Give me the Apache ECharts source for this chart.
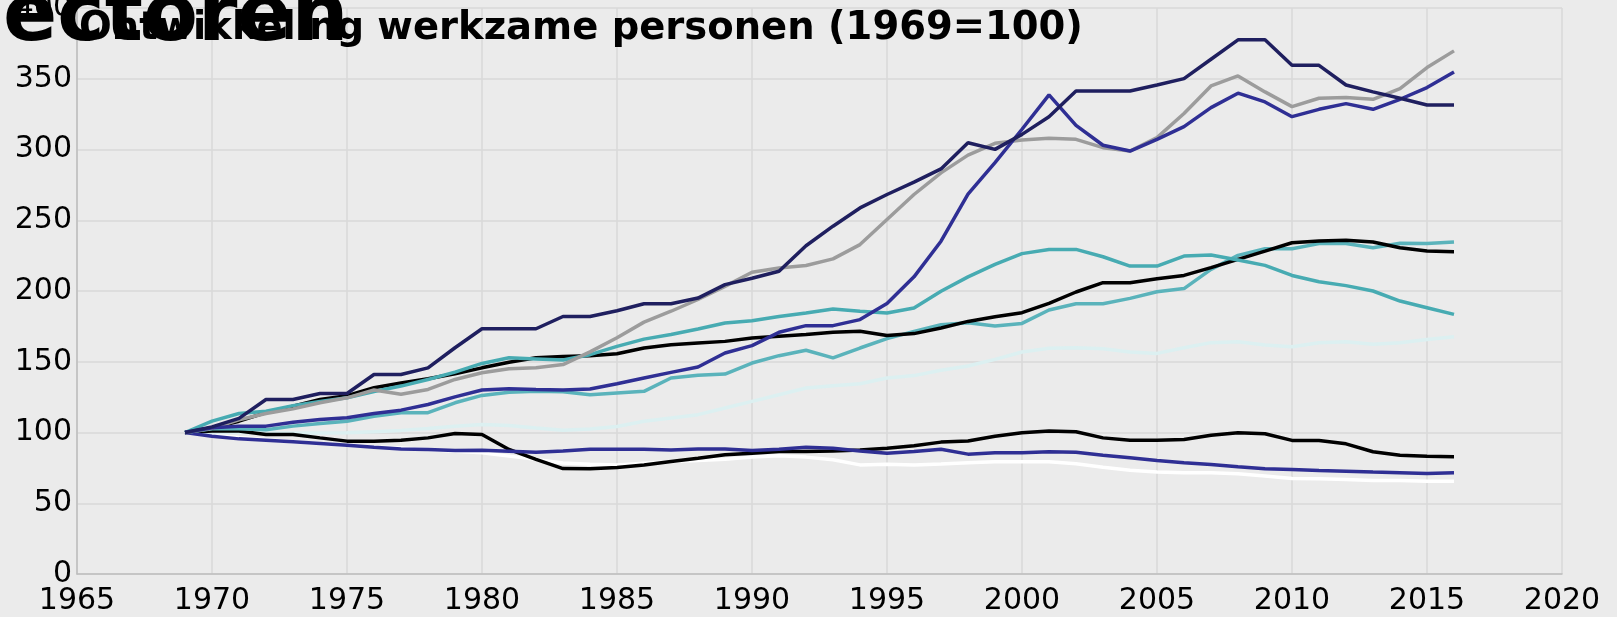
<!DOCTYPE html>
<html lang="nl">
<head>
<meta charset="UTF-8">
<title>Ontwikkeling werkzame personen</title>
<script src="https://cdn.jsdelivr.net/npm/echarts@6/dist/echarts.min.js"></script>
<style>
    html, body { margin: 0; padding: 0; background: #ebebeb; }
    #chart { width: 1617px; height: 617px; }
</style>
</head>
<body>
<div id="chart"></div>
<script>
    // jaren 1969 t/m 2016
    var years = [];
    for (var y = 1969; y <= 2016; y++) years.push(y);

    var xTicks = [1965, 1970, 1975, 1980, 1985, 1990, 1995, 2000, 2005, 2010, 2015, 2020];
    var yTicks = [0, 50, 100, 150, 200, 250, 300, 350, 400];

    var navy = [100, 104, 110, 123.3, 123.3, 127.6, 127.6, 141, 141, 145.7, 159.9,
        173.3, 173.3, 173.3, 182, 182, 186, 191, 191, 195, 204.5,
        209, 214, 232, 245.8, 258.7, 268.2, 276.9, 286.3, 304.8, 300.1,
        310.7, 323.2, 341.4, 341.4, 341.4, 345.6, 350.1, 363.8, 377.5, 377.5,
        359.5, 359.5, 345.6, 340.7, 336.2, 331.5, 331.5];
    var grey = [100, 103, 109, 113.4, 116.7, 121, 124.5, 130, 127, 130.4, 137.5,
        142.2, 145, 145.7, 148, 157, 167, 178, 185.7, 194, 203.3,
        213.3, 216.3, 218, 222.7, 232.8, 250.5, 268.2, 283.5, 296, 304.4,
        306.7, 307.9, 307.2, 301.3, 298.9, 308.4, 325.4, 344.9, 352, 340.7,
        330.3, 336.2, 336.7, 335.5, 343, 357.9, 369.7];
    var blue = [100, 103.3, 104.5, 104.5, 107.3, 109.2, 110.4, 113.4, 115.8, 119.8, 125.2,
        130, 131, 130.4, 130, 130.7, 134.5, 138.5, 142.5, 146.3, 156.2,
        161.4, 170.8, 175.5, 175.5, 179.8, 191.1, 210, 235.2, 268.5, 290.7,
        314.3, 338.6, 317.1, 303, 298.9, 307.2, 316.2, 329.6, 339.8, 333.6,
        323.2, 328.4, 332.4, 328.4, 335.5, 343.8, 354.8];
    var tealHigh = [100, 108, 113.4, 115, 119, 122, 124.5, 129, 132.8, 137.5, 142.7,
        148.8, 152.8, 152, 151.2, 155, 160.9, 166, 169.2, 173.2, 177.4,
        179, 182, 184.5, 187.3, 185.7, 184.5, 188, 199.8, 210, 218.8,
        226.4, 229.4, 229.4, 224.2, 217.6, 217.6, 224.7, 225.4, 221.9, 218.1,
        211, 206.5, 203.8, 200, 192.9, 188.2, 183.5];
    var blackHigh = [100, 103.3, 108, 114, 118.6, 123.3, 126, 131.6, 135, 138, 141.5,
        145.7, 149.7, 152.8, 153.7, 154.2, 155.7, 159.7, 162, 163.3, 164.4,
        166.8, 168, 169.2, 170.8, 171.5, 168.5, 169.9, 173.9, 178.5, 181.8,
        184.7, 191.3, 199.3, 205.9, 205.9, 208.7, 211, 216.5, 222.4, 228.2,
        234.1, 235.3, 235.8, 234.6, 230.6, 228.2, 227.8];
    var tealLow = [100, 102.6, 102.6, 102, 104.5, 106.4, 108, 111.5, 114, 114, 121,
        126.2, 128.5, 129.2, 128.8, 126.7, 127.9, 129.1, 138.5, 140.4, 141.3,
        149.1, 154.3, 158.1, 152.7, 159.7, 166.3, 171.5, 176.2, 177.6, 175.2,
        177.1, 186.6, 191, 191, 194.8, 199.5, 201.7, 215.3, 225.2, 229.9,
        229.9, 233.5, 233.5, 230.6, 233.7, 233.5, 234.6];
    var cyan = [100, 100.2, 100, 99.8, 99.7, 99.7, 99.8, 100.5, 101.5, 102.8, 104.5,
        105.7, 105, 103.2, 101.6, 102.5, 104.3, 107.9, 110.2, 112.6, 117.3,
        122, 126.7, 131.4, 133.1, 134.5, 138.5, 140.2, 144, 147, 151.7,
        156.9, 159.5, 159.9, 159.2, 156.9, 155.9, 159.9, 163.5, 164.2, 161.8,
        160.6, 163.5, 164.2, 162.3, 163.5, 165.8, 167.7];
    var blackLow = [100, 101, 101, 98.6, 98.6, 96.2, 93.9, 93.9, 94.6, 96.2, 99.3,
        98.6, 88, 81, 74.5, 74.3, 75.2, 77.1, 79.5, 81.8, 84.2,
        85.4, 86.6, 86.6, 87, 87.7, 88.9, 90.6, 93.2, 94, 97.4,
        99.8, 101, 100.5, 96.2, 94.6, 94.6, 95.1, 98.1, 99.8, 99.1,
        94.4, 94.4, 92, 86.4, 84, 83.3, 82.8];
    var blueLow = [100, 97.4, 95.5, 94.6, 93.4, 92.2, 91, 89.6, 88.4, 88, 87.3,
        87.5, 86.8, 86.1, 86.9, 88.1, 88.2, 88.2, 87.7, 88.4, 88.4,
        87.3, 88.2, 89.6, 88.9, 87, 85.4, 86.6, 88.2, 84.7, 85.7,
        85.7, 86.4, 86.1, 84, 82.2, 80.2, 78.6, 77.4, 75.8, 74.4,
        73.9, 73.2, 72.7, 72, 71.5, 71, 71.5];
    var white = [100, 98.5, 96.5, 95, 93.5, 92.3, 91, 90, 89, 88, 86.8,
        85.6, 83.3, 81, 78.5, 77.5, 77.1, 78.3, 79.5, 80.2, 81.1,
        82.6, 83.5, 82.6, 80.7, 77.1, 77.6, 77.1, 77.8, 78.7, 79.3,
        79.3, 79.3, 77.9, 75.5, 73.4, 72, 71.5, 71.5, 70.8, 69.2,
        67.5, 67.3, 66.8, 66.1, 66.1, 65.6, 65.6];

    var lines = [
        { data: white, color: '#ffffff' },
        { data: cyan, color: '#dcf0f1' },
        { data: blackLow, color: '#000000' },
        { data: blueLow, color: '#2f2f94' },
        { data: tealLow, color: '#5ab3bb' },
        { data: blackHigh, color: '#000000' },
        { data: tealHigh, color: '#47abb2' },
        { data: grey, color: '#9c9c9c' },
        { data: blue, color: '#2f2f94' },
        { data: navy, color: '#1f1f5f' }
    ];

    function pairs(vals) {
        var out = [];
        for (var i = 0; i < vals.length; i++) out.push([years[i], vals[i]]);
        return out;
    }

    var series = lines.map(function(l) {
        return {
            type: 'line',
            data: pairs(l.data),
            symbol: 'none',
            lineStyle: { color: l.color, width: 3.5 },
            silent: true
        };
    });

    var font = 'DejaVu Sans';
    var option = {
        backgroundColor: '#ebebeb',
        animation: false,
        grid: { left: 77, right: 55, top: 8, bottom: 43, outerBoundsMode: 'none', containLabel: false },
        xAxis: {
            type: 'value',
            min: xTicks[0],
            max: xTicks[xTicks.length - 1],
            interval: 5,
            axisLine: { lineStyle: { color: '#bdbdbd', width: 1.5 } },
            axisTick: { show: false },
            splitLine: { lineStyle: { color: '#d9d9d9', width: 1.5 } },
            axisLabel: {
                color: '#000', fontFamily: font, fontSize: 30, margin: 12,
                formatter: function(v) { return String(v); }
            }
        },
        yAxis: {
            type: 'value',
            min: yTicks[0],
            max: yTicks[yTicks.length - 1],
            interval: 50,
            axisLine: { show: true, lineStyle: { color: '#bdbdbd', width: 1.5 } },
            axisTick: { show: false },
            splitLine: { lineStyle: { color: '#d9d9d9', width: 1.5 } },
            axisLabel: { color: '#000', fontFamily: font, fontSize: 30, margin: 5 }
        },
        graphic: [
            {
                type: 'text', left: 79, top: 9, z: 10,
                style: {
                    text: 'Ontwikkeling werkzame personen (1969=100)',
                    fill: '#000', font: 'bold 38.5px "DejaVu Sans"'
                }
            },
            {
                type: 'text', left: 3, top: -21, z: 11,
                style: {
                    text: 'ectoren',
                    fill: '#000', font: 'bold 80px "DejaVu Sans"'
                }
            }
        ],
        series: series
    };

    var myChart = echarts.init(document.getElementById('chart'));
    myChart.setOption(option);
</script>
</body>
</html>
